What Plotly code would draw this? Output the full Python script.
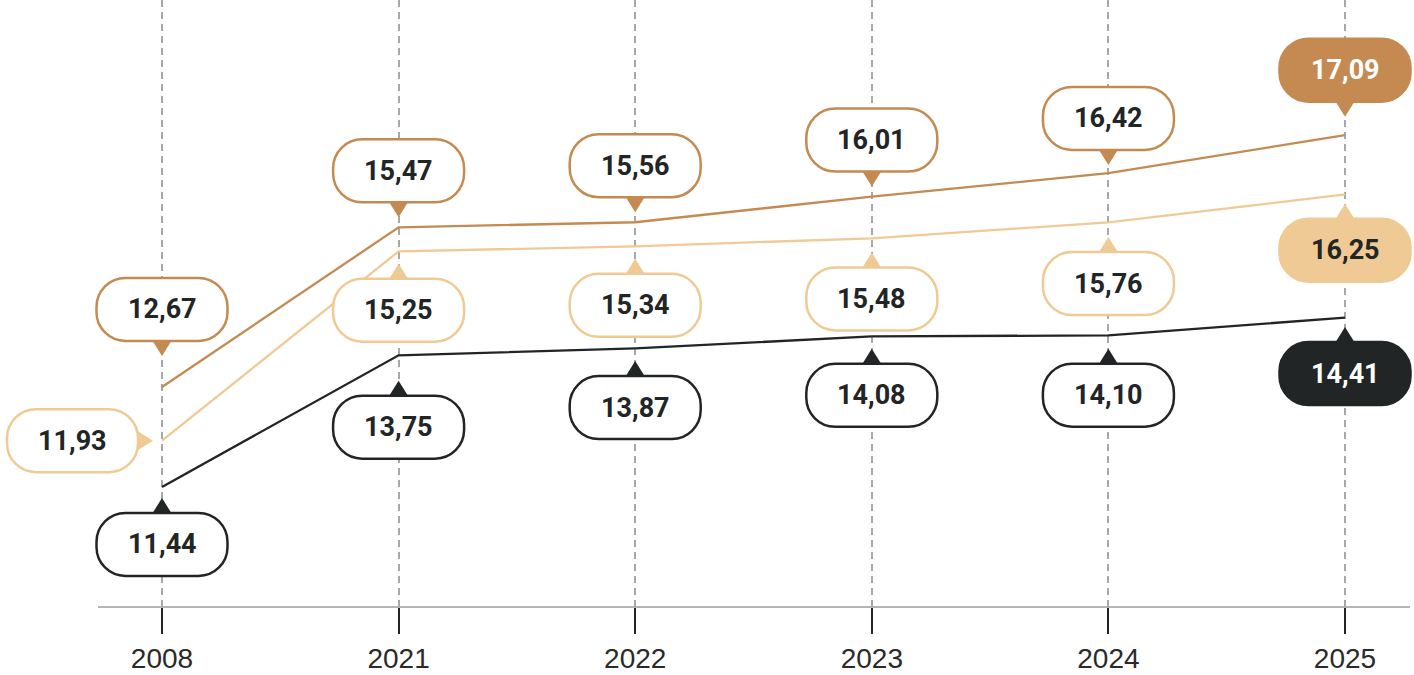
import plotly.graph_objects as go

# ---------------- data ----------------
years = ["2008", "2021", "2022", "2023", "2024", "2025"]
series_brown = [12.67, 15.47, 15.56, 16.01, 16.42, 17.09]
series_tan = [11.93, 15.25, 15.34, 15.48, 15.76, 16.25]
series_black = [11.44, 13.75, 13.87, 14.08, 14.10, 14.41]

# ---------------- styling / layout ----------------
W, H = 1414, 675
MB = 68
PLOT_H = H - MB
PX_PER_UNIT = 57.0
COL_BROWN = "#c48a52"
COL_TAN = "#f0ca94"
COL_BLACK = "#222526"
TEXT_DARK = "#222526"

# per-series vertical placement (value at top of plot area) and label placement
series_cfg = [
    dict(name="brown", values=series_brown, color=COL_BROWN, yref="y", axis="yaxis", top=19.459,
         sides=["down"] * 6, gaps=[31, 10, 10, 10, 8.3, 18.4], text_last="#ffffff"),
    dict(name="tan", values=series_tan, color=COL_TAN, yref="y2", axis="yaxis2", top=19.661,
         sides=["left", "up", "up", "up", "up", "up"], gaps=[9, 12.3, 12.5, 14.1, 14.7, 9.3],
         text_last=TEXT_DARK),
    dict(name="black", values=series_black, color=COL_BLACK, yref="y3", axis="yaxis3", top=19.983,
         sides=["up"] * 6, gaps=[11, 25.4, 12.6, 12.3, 13.4, 9.4], text_last="#ffffff"),
]

BOX_W, BOX_H, BOX_R = 131.0, 63.0, 29.0
TRI_H, TRI_HALF = 15.0, 10.0


def fmt(v):
    return f"{v:.2f}".replace(".", ",")


def pill_path(cx, cy, w, h, r):
    # cx, cy in pixel offsets with y pointing up
    a, b = w / 2, h / 2
    k = 0.5523 * r
    L, R, T, B = cx - a, cx + a, cy + b, cy - b
    p = [
        f"M{L + r:.2f},{T:.2f}",
        f"L{R - r:.2f},{T:.2f}",
        f"C{R - r + k:.2f},{T:.2f} {R:.2f},{T - r + k:.2f} {R:.2f},{T - r:.2f}",
        f"L{R:.2f},{B + r:.2f}",
        f"C{R:.2f},{B + r - k:.2f} {R - r + k:.2f},{B:.2f} {R - r:.2f},{B:.2f}",
        f"L{L + r:.2f},{B:.2f}",
        f"C{L + r - k:.2f},{B:.2f} {L:.2f},{B + r - k:.2f} {L:.2f},{B + r:.2f}",
        f"L{L:.2f},{T - r:.2f}",
        f"C{L:.2f},{T - r + k:.2f} {L + r - k:.2f},{T:.2f} {L + r:.2f},{T:.2f}",
        "Z",
    ]
    return " ".join(p)


def tri_path(pts):
    return "M" + " L".join(f"{x:.2f},{y:.2f}" for x, y in pts) + " Z"


fig = go.Figure()
shapes = []
annotations = []

for cfg in series_cfg:
    fig.add_trace(go.Scatter(
        x=list(range(len(years))), y=cfg["values"], mode="lines", yaxis=cfg["yref"],
        line=dict(color=cfg["color"], width=2.3), hoverinfo="skip", showlegend=False,
    ))
    n = len(cfg["values"])
    for i, v in enumerate(cfg["values"]):
        side, g = cfg["sides"][i], cfg["gaps"][i]
        # geometry in pixel offsets relative to the data point, y pointing up
        if side == "down":      # box above the point, pointer pointing down
            cx, cy = 0, g + TRI_H + BOX_H / 2
            tip = (0, g)
            base = [(-TRI_HALF, g + TRI_H + 1), (TRI_HALF, g + TRI_H + 1)]
        elif side == "up":      # box below the point, pointer pointing up
            cx, cy = 0, -(g + TRI_H + BOX_H / 2)
            tip = (0, -g)
            base = [(-TRI_HALF, -g - TRI_H - 1), (TRI_HALF, -g - TRI_H - 1)]
        else:                   # box to the left, pointer pointing right
            cx, cy = -(g + TRI_H + BOX_W / 2), 0
            tip = (-g, 0)
            base = [(-g - TRI_H - 1, TRI_HALF), (-g - TRI_H - 1, -TRI_HALF)]

        last = i == n - 1
        common = dict(xref="x", yref=cfg["yref"], xsizemode="pixel", ysizemode="pixel",
                      xanchor=i, yanchor=v, layer="above")
        shapes.append(dict(type="path", path=tri_path([base[0], tip, base[1]]),
                           fillcolor=cfg["color"], line=dict(width=0), **common))
        shapes.append(dict(type="path", path=pill_path(cx, cy, BOX_W, BOX_H, BOX_R),
                           fillcolor=cfg["color"] if last else "#ffffff",
                           line=dict(color=cfg["color"], width=2.5), **common))
        annotations.append(dict(
            x=i, y=v, xref="x", yref=cfg["yref"], xshift=cx, yshift=cy,
            text="<b>" + fmt(v) + "</b>", showarrow=False,
            font=dict(family="Roboto", size=27, color=cfg["text_last"] if last else TEXT_DARK),
        ))

# x-axis baseline (spans only part of the width)
shapes.append(dict(type="line", xref="paper", yref="paper", x0=98 / W, x1=1410 / W, y0=0, y1=0,
                   line=dict(color="#b5b5b5", width=2), layer="below"))

# x range so that categories sit at the reference positions
x_first_px, x_step_px = 162.0, 236.6
x0 = -x_first_px / x_step_px
x1 = x0 + W / x_step_px

layout = dict(
    width=W, height=H,
    margin=dict(l=0, r=0, t=0, b=MB, pad=0),
    paper_bgcolor="#ffffff", plot_bgcolor="#ffffff",
    showlegend=False,
    xaxis=dict(
        tickmode="array", tickvals=list(range(len(years))), ticktext=years,
        range=[x0, x1], showline=False, zeroline=False,
        showgrid=True, gridcolor="#a8a8a8", gridwidth=2, griddash="7px,5px",
        ticks="outside", ticklen=26, tickwidth=2, tickcolor="#222526",
        tickfont=dict(family="Liberation Sans", size=28, color="#2a2a2a"),
        fixedrange=True,
    ),
    shapes=shapes,
    annotations=annotations,
    hovermode=False,
)
span = PLOT_H / PX_PER_UNIT
for cfg in series_cfg:
    ax = dict(range=[cfg["top"] - span, cfg["top"]], visible=True, showgrid=False,
              zeroline=False, showticklabels=False, ticks="", showline=False, fixedrange=True)
    if cfg["axis"] != "yaxis":
        ax["overlaying"] = "y"
    layout[cfg["axis"]] = ax

fig.update_layout(**layout)
fig.write_html("out.html", config={"displayModeBar": False},
               post_script="document.body.style.margin='0';document.body.style.overflow='hidden';")
